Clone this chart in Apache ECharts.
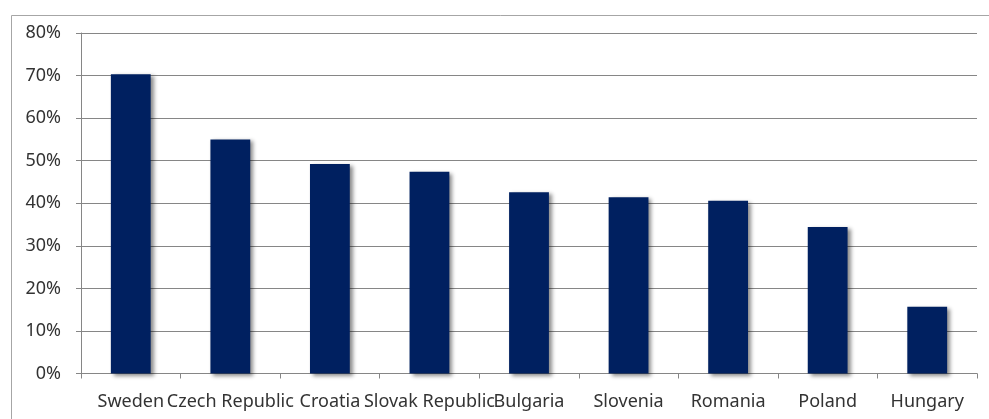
<!DOCTYPE html>
<html>
<head>
<meta charset="utf-8">
<script src="https://cdn.jsdelivr.net/npm/echarts@6/dist/echarts.min.js"></script>
<style>
  html, body { margin: 0; padding: 0; background: #fff; }
  #chart { width: 989px; height: 419px; }
</style>
</head>
<body>
<div id="chart"></div>
<script>
  // values (share, %)
  var countries = ['Sweden', 'Czech Republic', 'Croatia', 'Slovak Republic', 'Bulgaria', 'Slovenia', 'Romania', 'Poland', 'Hungary'];
  var shares = [70.3, 55.0, 49.2, 47.4, 42.6, 41.4, 40.6, 34.4, 15.7];
  var yTicks = [0, 10, 20, 30, 40, 50, 60, 70, 80];

  var chart = echarts.init(document.getElementById('chart'));
  var font = '"Noto Sans", sans-serif';

  var option = {
    backgroundColor: '#fff',
    animation: false,
    graphic: [{
      type: 'rect',
      shape: { x: 11.5, y: 15.5, width: 1100, height: 600 },
      style: { fill: 'none', stroke: '#a6a6a6', lineWidth: 1 },
      silent: true
    }],
    grid: {
      left: 81,
      right: 12,
      top: 33,
      bottom: 45.5
    },
    xAxis: {
      type: 'category',
      data: countries,
      axisLine: { lineStyle: { color: '#868686', width: 1 } },
      axisTick: { show: true, length: 5, lineStyle: { color: '#868686' } },
      axisLabel: {
        interval: 0,
        margin: 19,
        color: '#333',
        fontFamily: font,
        fontSize: 18
      }
    },
    yAxis: {
      type: 'value',
      min: yTicks[0],
      max: yTicks[yTicks.length - 1],
      interval: 10,
      axisLine: { show: true, lineStyle: { color: '#868686', width: 1 } },
      axisTick: { show: true, length: 5, lineStyle: { color: '#868686' } },
      splitLine: { show: true, lineStyle: { color: '#868686', width: 1 } },
      axisLabel: {
        margin: 20,
        color: '#333',
        fontFamily: font,
        fontSize: 18,
        formatter: '{value}%'
      }
    },
    series: [{
      type: 'bar',
      data: shares,
      barWidth: '40%',
      itemStyle: {
        color: '#002060',
        shadowColor: 'rgba(0,0,0,0.45)',
        shadowBlur: 4,
        shadowOffsetX: 3,
        shadowOffsetY: 2
      }
    }]
  };

  chart.setOption(option);
</script>
</body>
</html>
